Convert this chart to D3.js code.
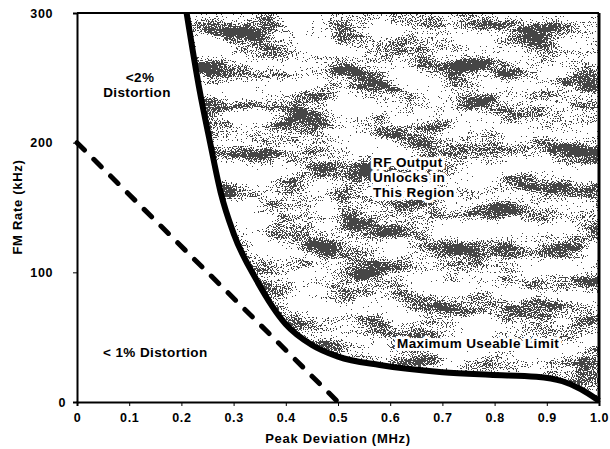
<!DOCTYPE html>
<html>
<head>
<meta charset="utf-8">
<script src="https://cdn.jsdelivr.net/npm/d3@7"></script>
<style>
  body { margin: 0; background: #fff; }
  svg { display: block; font-family: "Liberation Sans", Arial, sans-serif; font-weight: bold; }
  .tick text { font-size: 12.5px; letter-spacing: 0.6px; fill: #000; }
  .note { font-size: 13.5px; letter-spacing: 0.4px; fill: #000; }
  .title { font-size: 13px; letter-spacing: 0.7px; }
  .halo { paint-order: stroke; stroke: #fff; stroke-width: 6px; stroke-linejoin: round; }
</style>
</head>
<body>
<svg width="610" height="449"></svg>
<script>
// peak deviation (MHz) / FM rate (kHz)
const devTicks = [0, 0.1, 0.2, 0.3, 0.4, 0.5, 0.6, 0.7, 0.8, 0.9, 1.0];
const rateTicks = [0, 100, 200, 300];

// maximum useable limit curve
const limitDev = [0.21, 0.235, 0.255, 0.275, 0.30, 0.344, 0.40, 0.45, 0.50, 0.58, 0.70, 0.79, 0.88, 0.93, 0.965, 1.0];
const limitRate = [300, 240, 200, 162, 130, 94, 60, 44, 35, 28.5, 23, 21, 19.5, 16, 10, 1];

// 1% distortion boundary (dashed)
const distDev = [0, 0.5];
const distRate = [200, 0];

const svg = d3.select("svg");
const W = 610, H = 449;

const x = d3.scaleLinear().domain([0, 1]).range([77, 599]);
const y = d3.scaleLinear().domain([0, 300]).range([402, 13]);

const limit = limitDev.map((d, i) => ({ dev: d, rate: limitRate[i] }));
const dist = distDev.map((d, i) => ({ dev: d, rate: distRate[i] }));

// stipple texture for the unlock region
const defs = svg.append("defs");
const f = defs.append("filter")
  .attr("id", "stipple")
  .attr("filterUnits", "userSpaceOnUse")
  .attr("x", 0).attr("y", 0).attr("width", W).attr("height", H);
f.append("feTurbulence")
  .attr("type", "fractalNoise")
  .attr("baseFrequency", "0.018 0.05")
  .attr("numOctaves", 4)
  .attr("seed", 5)
  .attr("result", "blot0");
f.append("feColorMatrix")
  .attr("in", "blot0")
  .attr("type", "matrix")
  .attr("values", "1 0 0 0 0  1 0 0 0 0  1 0 0 0 0  0 0 0 0 1")
  .attr("result", "blot");
f.append("feTurbulence")
  .attr("type", "fractalNoise")
  .attr("baseFrequency", "0.8")
  .attr("numOctaves", 2)
  .attr("seed", 9)
  .attr("result", "grain0");
f.append("feColorMatrix")
  .attr("in", "grain0")
  .attr("type", "matrix")
  .attr("values", "1 0 0 0 0  1 0 0 0 0  1 0 0 0 0  0 0 0 0 1")
  .attr("result", "grain");
f.append("feComposite")
  .attr("in", "blot").attr("in2", "grain")
  .attr("operator", "arithmetic")
  .attr("k1", 0).attr("k2", 1.4).attr("k3", 1.2).attr("k4", -0.87)
  .attr("result", "mix");
f.append("feColorMatrix")
  .attr("in", "mix")
  .attr("type", "matrix")
  .attr("values", "0 0 0 0 0  0 0 0 0 0  0 0 0 0 0  -1 0 0 0 1")
  .attr("result", "dark");
const ct = f.append("feComponentTransfer").attr("in", "dark").attr("result", "dots");
ct.append("feFuncA").attr("type", "discrete").attr("tableValues", "0 0 0 0 0 0 0 1 1 1");
f.append("feComposite").attr("in", "dots").attr("in2", "SourceGraphic").attr("operator", "in");

const area = d3.area()
  .x(d => x(d.dev))
  .y0(y(300))
  .y1(d => y(d.rate))
  .curve(d3.curveMonotoneX);

svg.append("path")
  .datum(limit)
  .attr("d", area)
  .attr("fill", "#fff")
  .attr("filter", "url(#stipple)")
  .attr("opacity", 0.72);

// axes
const xAxis = d3.axisBottom(x)
  .tickValues(devTicks)
  .tickSize(4)
  .tickPadding(7)
  .tickFormat(d => d === 0 ? "0" : d3.format(".1f")(d));
const gx = svg.append("g").attr("transform", `translate(0,${y(0)})`).call(xAxis);
gx.select(".domain").attr("stroke-width", 2);

const yAxis = d3.axisLeft(y)
  .tickValues(rateTicks)
  .tickSize(4)
  .tickPadding(20);
const gy = svg.append("g").attr("transform", `translate(${x(0)},0)`).call(yAxis);
gy.select(".domain").attr("stroke-width", 2);
gy.selectAll(".tick text").attr("dx", d => d === 0 ? 13 : 0);

// frame top and right
svg.append("line")
  .attr("x1", x(0)).attr("x2", x(1)).attr("y1", y(300)).attr("y2", y(300))
  .attr("stroke", "#000").attr("stroke-width", 2);
svg.append("line")
  .attr("x1", x(1)).attr("x2", x(1)).attr("y1", y(300)).attr("y2", y(0))
  .attr("stroke", "#000").attr("stroke-width", 3);

// limit curve
svg.append("path")
  .datum(limit)
  .attr("d", d3.line().x(d => x(d.dev)).y(d => y(d.rate)).curve(d3.curveMonotoneX))
  .attr("fill", "none")
  .attr("stroke", "#000")
  .attr("stroke-width", 6);

// dashed distortion line, dash pattern fitted so the last dash ends on the axis
const distPath = svg.append("path")
  .datum(dist)
  .attr("d", d3.line().x(d => x(d.dev)).y(d => y(d.rate)))
  .attr("fill", "none")
  .attr("stroke", "#000")
  .attr("stroke-width", 5)
  .attr("stroke-linecap", "round");
const L = distPath.node().getTotalLength();
const nDash = 16, dashLen = 10.5;
const gapLen = (L - 2.5 - nDash * dashLen) / (nDash - 1);
distPath.attr("stroke-dasharray", `${dashLen} ${gapLen}`);

// annotations
const note = (tx, ty, s, anchor, cls) => svg.append("text")
  .attr("class", "note " + (cls || ""))
  .attr("x", tx).attr("y", ty)
  .attr("text-anchor", anchor || "start")
  .text(s);

note(140, 82, "<2%", "middle");
note(137, 97, "Distortion", "middle");
note(373, 167, "RF Output", "start", "halo");
note(373, 182, "Unlocks in", "start", "halo");
note(373, 197, "This Region", "start", "halo");
note(397, 348, "Maximum Useable Limit", "start", "halo");
note(103, 357, "< 1% Distortion");

svg.append("text")
  .attr("class", "note title")
  .attr("transform", `translate(22,207) rotate(-90)`)
  .attr("text-anchor", "middle")
  .text("FM Rate (kHz)");

svg.append("text")
  .attr("class", "note title")
  .attr("x", 338).attr("y", 443)
  .attr("text-anchor", "middle")
  .text("Peak Deviation (MHz)");
</script>
</body>
</html>
